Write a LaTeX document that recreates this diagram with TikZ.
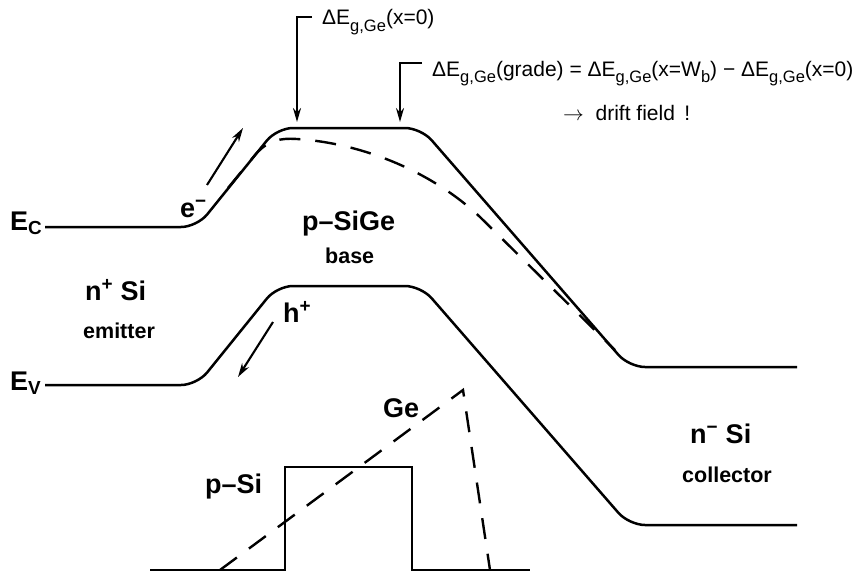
\documentclass[tikz,border=0pt]{standalone}
\usepackage{fontspec}
\setmainfont{Liberation Sans}
\usetikzlibrary{arrows.meta}
\newcommand{\lowidx}[1]{\raisebox{-0.3em}{\fontsize{16.5}{18}\selectfont #1}}

\begin{document}
\begin{tikzpicture}[x=1pt,y=-1pt,>={Stealth[length=14pt,width=8pt]},
  band/.style={line width=2.5pt,rounded corners=16pt},
  graded/.style={line width=2.4pt,dash pattern=on 21pt off 15pt},
  carrier/.style={->,line width=2.1pt},
  marker/.style={->,line width=2.1pt},
  lbl/.style={font=\fontsize{27}{30}\selectfont\bfseries,inner sep=0pt,anchor=base west},
  region/.style={font=\fontsize{21.5}{24}\selectfont\bfseries,inner sep=0pt,anchor=base west},
  eqn/.style={font=\fontsize{21}{24}\selectfont,inner sep=0pt,anchor=base west}]
\useasboundingbox (0,0) rectangle (861,578);

% band edges
\draw[band] (45,227) -- (197,227) -- (277,128) -- (421,128) -- (629,367) -- (797,367);
\draw[band] (45,385) -- (197,385) -- (277,286) -- (421,286) -- (629,525) -- (797,525);
\draw[graded] (228,188) -- (255,155) .. controls (268,140) and (280,138) .. (297,139)
  .. controls (360,143) and (430,170) .. (480,217) -- (615,350);

% doping and Ge profile
\draw[line width=2.5pt] (150,570) -- (285,570) -- (285,467) -- (412,467) -- (412,570) -- (530,570);
\draw[graded] (220,570) -- (463,390) -- (490,570);

% carriers
\coordinate (etail) at (207,185);
\coordinate (ehead) at (243,128);
\coordinate (htail) at (273,322);
\coordinate (hhead) at (238,377);
\draw[carrier] (etail) -- (ehead);
\draw[carrier] (htail) -- (hhead);

% band offsets
\coordinate (m1) at (312,17);
\coordinate (m1c) at (297,17);
\coordinate (m1h) at (297,122);
\coordinate (m2) at (422,63);
\coordinate (m2c) at (400,63);
\coordinate (m2h) at (400,122);
\draw[marker] (m1) -- (m1c) -- (m1h);
\draw[marker] (m2) -- (m2c) -- (m2h);

\node[eqn] (dezero) at (322,25) {ΔE\lowidx{g,Ge}(x=0)};
\node[eqn] (degrade) at (432,76) {ΔE\lowidx{g,Ge}(grade) = ΔE\lowidx{g,Ge}(x=W\lowidx{b}) − ΔE\lowidx{g,Ge}(x=0)};
\node[eqn] (drift) at (563,120) {$\rightarrow$\ \ drift field\, !};

% labels
\node[lbl] (ec) at (10,230) {E\textsubscript{C}};
\node[lbl] (ev) at (10,390) {E\textsubscript{V}};
\node[lbl] (elec) at (180,217) {e\textsuperscript{−}};
\node[lbl] (hole) at (283,322) {h\textsuperscript{+}};
\node[lbl] (emit) at (85,300) {n\textsuperscript{+} Si};
\node[region] (emitter) at (83,338) {emitter};
\node[lbl] (basemat) at (302,230) {p–SiGe};
\node[region] (base) at (325,263) {base};
\node[lbl] (coll) at (690,443) {n\textsuperscript{−} Si};
\node[region] (collector) at (682,482) {collector};
\node[lbl] (ge) at (383,417) {Ge};
\node[lbl] (psi) at (205,493) {p–Si};
\end{tikzpicture}
\end{document}
